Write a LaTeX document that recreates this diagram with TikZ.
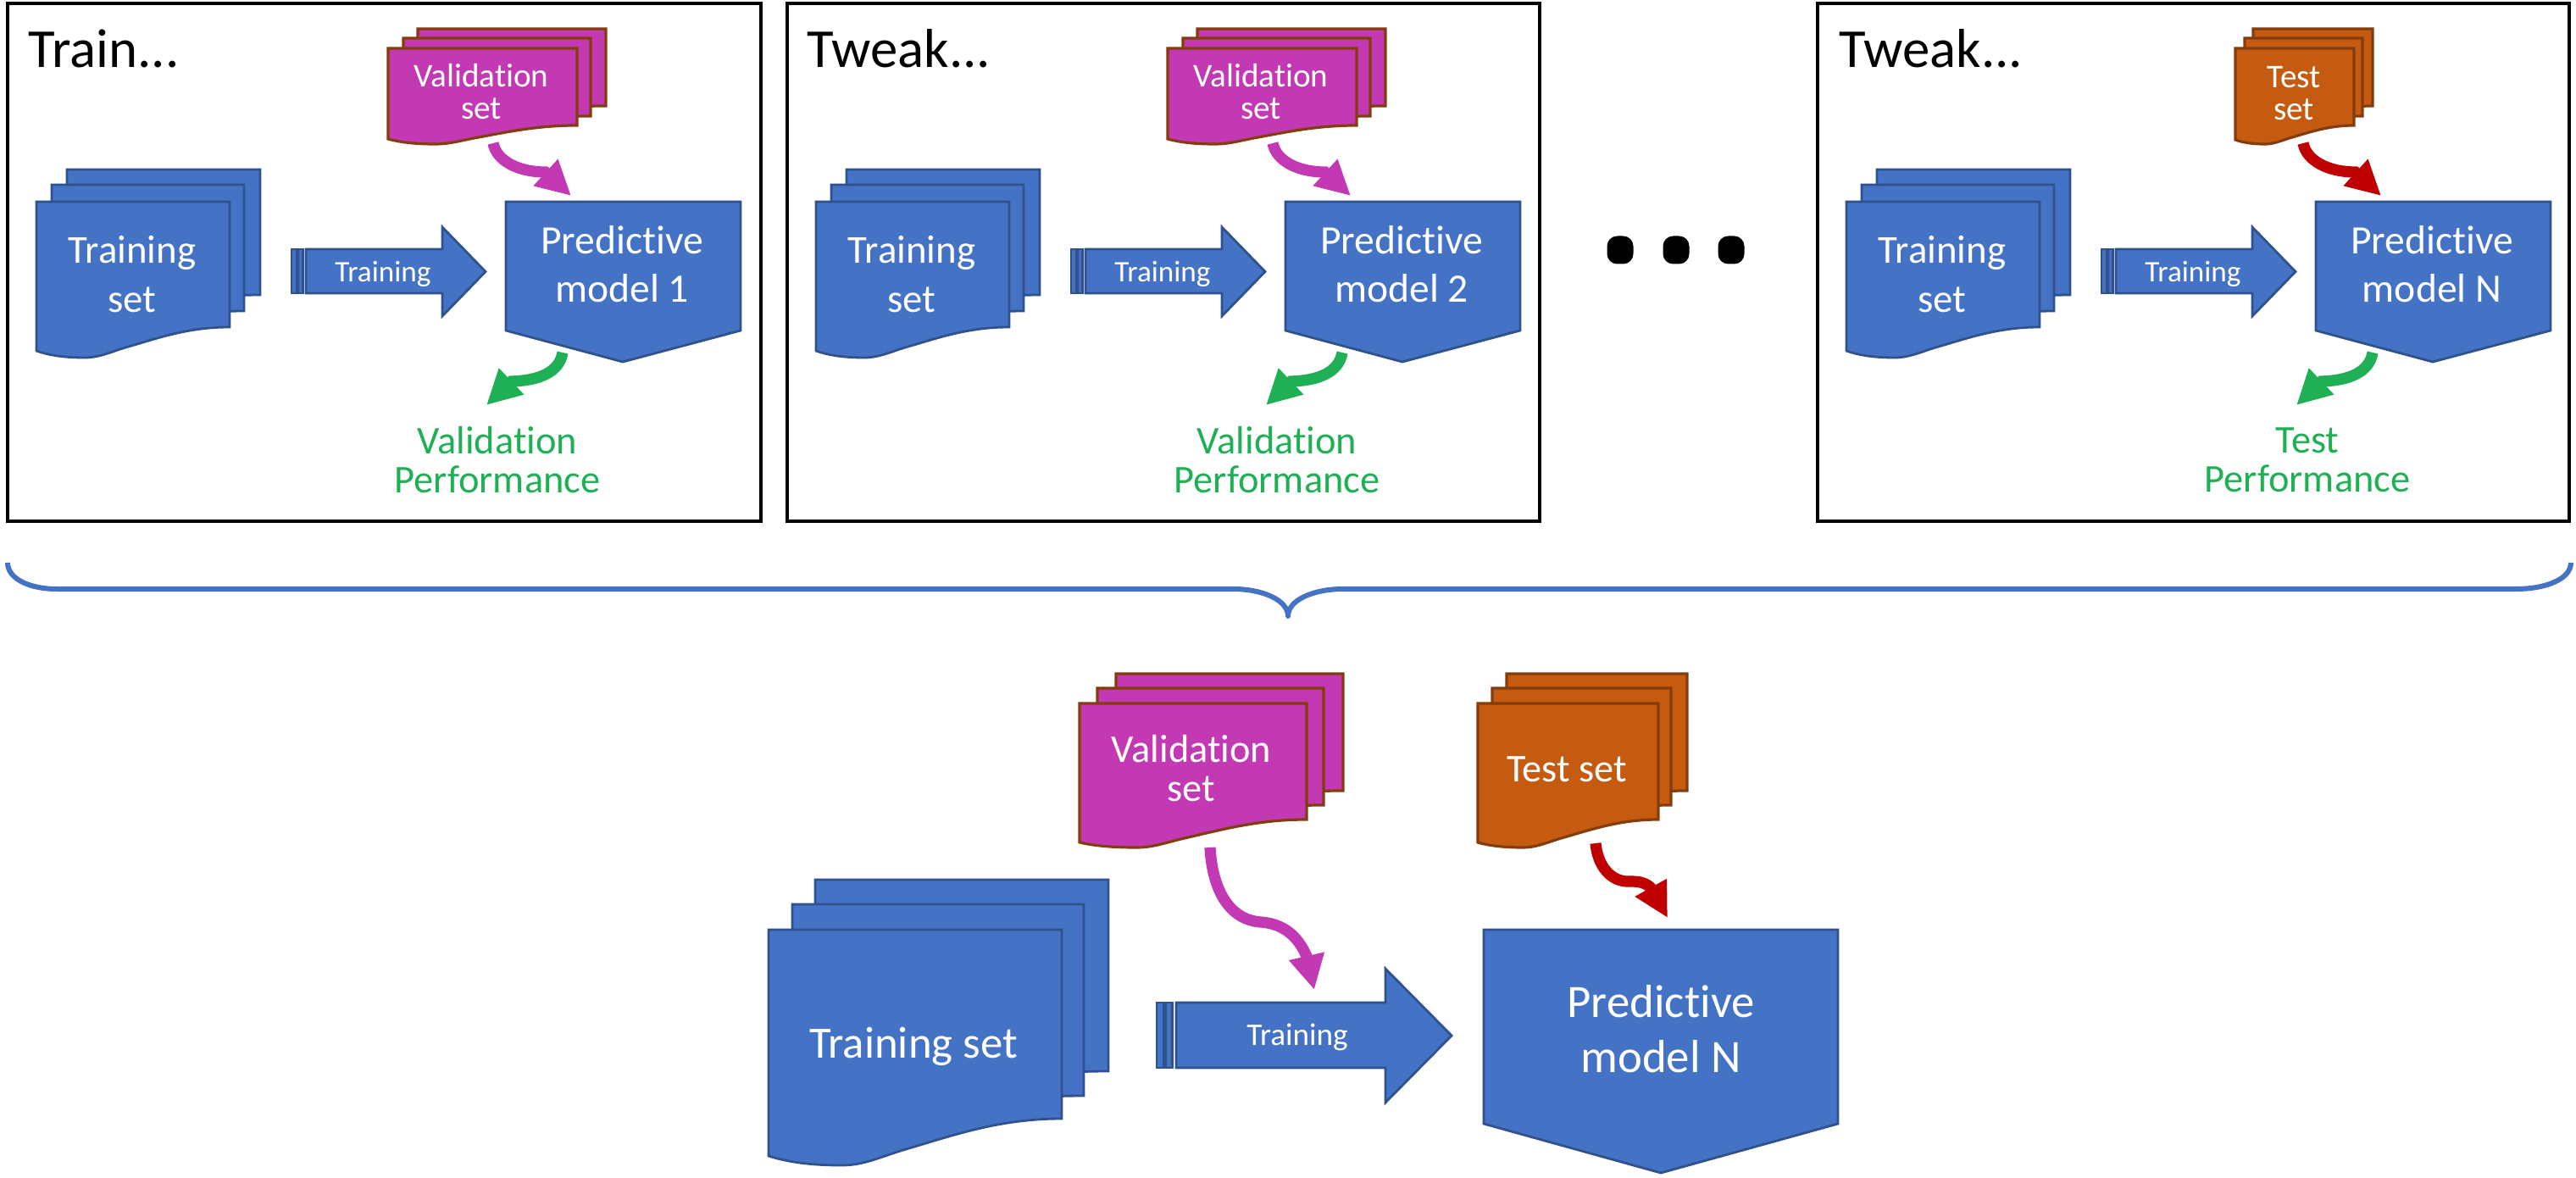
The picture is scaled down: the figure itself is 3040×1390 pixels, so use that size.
\documentclass[tikz,border=0pt]{standalone}
\usepackage{fontspec}
\setmainfont[RawFeature={-liga;-clig;-dlig;-calt}]{Carlito}
\usepackage{tikz}
\usetikzlibrary{positioning,arrows.meta}
\definecolor{boxblue}{HTML}{4472C4}
\definecolor{edgeblue}{HTML}{2F528F}
\definecolor{valfill}{HTML}{C239B3}
\definecolor{testfill}{HTML}{C55A11}
\definecolor{edgebrown}{HTML}{843C0C}
\definecolor{perfgreen}{HTML}{1FB055}
\definecolor{testred}{HTML}{C00000}
\tikzset{
  frame/.style={draw=black,line width=0.85pt,fill=none},
  bluepart/.style={draw=edgeblue,fill=boxblue,line width=0.7pt},
  valpart/.style={draw=edgebrown,fill=valfill,line width=0.8pt},
  testpart/.style={draw=edgebrown,fill=testfill,line width=0.8pt},
  whitetext/.style={text=white,align=center,inner sep=0pt},
  headtext/.style={text=black,anchor=base west,inner sep=0pt,font=\fontsize{16.2}{18}\selectfont},
  greentext/.style={text=perfgreen,align=center,inner sep=0pt,font=\fontsize{11.6}{11.5}\selectfont},
  flow/.style={line width=3.3pt,-{Triangle[length=10.2pt,width=10pt]}}
}
% one wavy sheet: left, right, top, right foot, left foot, low point
\newcommand{\docsheet}[7]{
  \draw[#1] (#2,#4) -- (#3,#4) -- (#3,#5)
    .. controls ({#2+0.78*(#3-#2)},#5) and ({#2+0.62*(#3-#2)},{#5+0.38*(#7-#5)}) .. ({#2+0.455*(#3-#2)},{#5+0.68*(#7-#5)})
    .. controls ({#2+0.37*(#3-#2)},{#5+0.85*(#7-#5)}) and ({#2+0.32*(#3-#2)},#7) .. ({#2+0.25*(#3-#2)},#7)
    .. controls ({#2+0.15*(#3-#2)},#7) and ({#2+0.07*(#3-#2)},{#7-0.3*(#7-#6)}) .. (#2,#6) -- cycle;
}
% striped block arrow
\newcommand{\blockarrow}[9]{
  % #1 name #2 left #3 stripe width #4 neck #5 tip #6 shaft top #7 shaft bottom #8 head top #9 head bottom
  \draw[bluepart] (#2,#6) rectangle ({#2+0.35*#3},#7);
  \draw[bluepart] ({#2+0.45*#3},#6) rectangle ({#2+0.8*#3},#7);
  \draw[bluepart] ({#2+#3},#6) -- (#4,#6) -- (#4,#8) -- (#5,{(#8+#9)/2}) -- (#4,#9) -- (#4,#7) -- ({#2+#3},#7) -- cycle;
  \coordinate (#1) at ({(#2+#3+#5)/2},{(#6+#7)/2});
}
\begin{document}
\begin{tikzpicture}[x=0.25pt,y=-0.25pt]
    \useasboundingbox (0,0) rectangle (3040,1390);
    %frames
    \draw[frame] (9,4) rectangle (898,615);
    \draw[frame] (929,4) rectangle (1817,615);
    \draw[frame] (2145,4) rectangle (3032,615);
    \node[headtext] (train) at (33,80) {Train...};
    \node[headtext] (tweak1) at (952,80) {Tweak...};
    \node[headtext] (tweak2) at (2170,80) {Tweak...};
    %panels
    \foreach \dx/\num/\bot/\nam in {0/1/Validation/val1,920/2/Validation/val2,2136/N/Test/test1} {
      \begin{scope}[xshift=\dx*0.25pt]
        \docsheet{bluepart}{79}{307}{200}{348}{348}{370}
        \docsheet{bluepart}{61}{288}{218}{367}{367}{390}
        \docsheet{bluepart}{43}{271}{238}{386}{414}{422}
        \node[whitetext,font=\fontsize{11.7}{14.5}\selectfont] (train\nam) at (156,324) {Training\\set};
        \blockarrow{block\nam}{344}{17}{522}{573}{294}{346}{268}{373}
        \node[whitetext,font=\fontsize{8.8}{10}\selectfont] (blocktext\nam) at (452,323) {Training};
        \draw[bluepart] (597,238) -- (874,238) -- (874,390) -- (735,427) -- (597,390) -- cycle;
        \node[whitetext,font=\fontsize{11.9}{14.3}\selectfont] (model\nam) at (734,312) {Predictive\\model \num};
        \coordinate (gs\nam) at (664,416);
        \coordinate (ge\nam) at (574,478);
        \draw[flow,perfgreen] (gs\nam) .. controls (660,440) and (635,449) .. (603.5,450) -- (ge\nam);
        \node[greentext] (perf\nam) at (587,543) {\bot\\Performance};
      \end{scope}
    }
    %top stacks
    \foreach \dx/\nam in {0/a,920/b} {
      \begin{scope}[xshift=\dx*0.25pt]
        \docsheet{valpart}{493}{715}{34}{125}{125}{140}
        \docsheet{valpart}{476}{697}{45}{137}{137}{152}
        \docsheet{valpart}{458}{681}{57}{148}{164}{170}
        \node[whitetext,font=\fontsize{9.8}{9.6}\selectfont] (valset\nam) at (568,108) {Validation\\set};
        \coordinate (vs\nam) at (582,169);
        \coordinate (ve\nam) at (674,231);
        \draw[flow,valfill] (vs\nam) .. controls (586,190) and (612,203) .. (643.5,203) -- (ve\nam);
      \end{scope}
    }
    \docsheet{testpart}{2659}{2800}{34}{125}{125}{140}
    \docsheet{testpart}{2649}{2788}{45}{137}{137}{152}
    \docsheet{testpart}{2638}{2778}{57}{148}{165}{170}
    \node[whitetext,font=\fontsize{9.8}{9.6}\selectfont] (testset) at (2707,110) {Test\\set};
    \coordinate (rs) at (2718,169);
    \coordinate (re) at (2810,231);
    \draw[flow,testred] (rs) .. controls (2722,190) and (2748,203) .. (2779.5,203) -- (re);
    %dots
    \foreach \x/\nam in {1912/d1,1978/d2,2043/d3} {
      \node[fill=black,rounded corners=3pt,minimum width=7.75pt,minimum height=8.25pt,inner sep=0pt] (\nam) at (\x,295) {};
    }
    %brace
    \coordinate (bl) at (9,664);
    \coordinate (br) at (3034,664);
    \coordinate (bm) at (1520,727);
    \draw[boxblue,line width=1.5pt,line join=round] (bl) .. controls (9,683) and (35,695) .. (67,695) -- (1455,695) .. controls (1490,695) and (1520,708) .. (bm) .. controls (1520,708) and (1550,695) .. (1585,695) -- (2969,695) .. controls (3005,695) and (3034,683) .. (br);
    %bottom row
    \docsheet{bluepart}{962}{1308}{1038}{1264}{1264}{1290}
    \docsheet{bluepart}{935}{1279}{1067}{1293}{1293}{1320}
    \docsheet{bluepart}{907}{1253}{1097}{1320}{1364}{1375}
    \node[whitetext,font=\fontsize{13.2}{15}\selectfont] (trainbig) at (1078,1235) {Training set};
    \docsheet{valpart}{1317}{1585}{795}{933}{933}{950}
    \docsheet{valpart}{1295}{1562}{812}{950}{950}{968}
    \docsheet{valpart}{1274}{1542}{830}{967}{994}{1000}
    \node[whitetext,font=\fontsize{11.6}{11.5}\selectfont] (valbig) at (1406,907) {Validation\\set};
    \docsheet{testpart}{1778}{1991}{795}{933}{933}{950}
    \docsheet{testpart}{1761}{1972}{812}{950}{950}{968}
    \docsheet{testpart}{1744}{1957}{830}{967}{994}{1000}
    \node[whitetext,font=\fontsize{11.6}{13}\selectfont] (testbig) at (1849,908) {Test set};
    \blockarrow{blockbig}{1365}{23}{1635}{1713}{1183}{1260}{1143}{1301}
    \node[whitetext,font=\fontsize{9.3}{11}\selectfont] (blocktextbig) at (1531,1224) {Training};
    \draw[bluepart] (1751,1097) -- (2169,1097) -- (2169,1326) -- (1960,1384) -- (1751,1326) -- cycle;
    \node[whitetext,font=\fontsize{13.7}{16.2}\selectfont] (modelbig) at (1960,1214) {Predictive\\model N};
    \coordinate (mbs) at (1428,1000);
    \coordinate (mbe) at (1551,1168);
    \draw[flow,valfill] (mbs) .. controls (1430,1040) and (1445,1085) .. (1488,1088) .. controls (1515,1090) and (1532,1105) .. (1542,1128.5) -- (mbe);
    \coordinate (rbs) at (1883,995);
    \coordinate (rbe) at (1968,1083);
    \draw[flow,testred] (rbs) .. controls (1885,1020) and (1900,1042) .. (1925,1040) .. controls (1935,1040) and (1943,1042) .. (1948.5,1048) -- (rbe);
\end{tikzpicture}
\end{document}
